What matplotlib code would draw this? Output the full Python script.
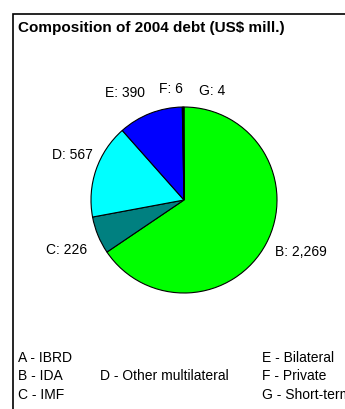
import matplotlib.pyplot as plt
from matplotlib.patches import Rectangle

plt.rcParams['font.family'] = ['Liberation Sans', 'DejaVu Sans']

letters = ['B', 'C', 'D', 'E', 'F', 'G']
values = [2269, 226, 567, 390, 6, 4]
value_text = ['2,269', '226', '567', '390', '6', '4']
colors = ['#00ff00', '#008080', '#00ffff', '#0000ff', '#663300', '#333300']

legend_cols = [
    ['A - IBRD', 'B - IDA', 'C - IMF'],
    ['', 'D - Other multilateral', ''],
    ['E - Bilateral', 'F - Private', 'G - Short-term'],
]

W, H = 345, 409
fig = plt.figure(figsize=(W / 100, H / 100), dpi=100)

# outer frame (cut off at right and bottom like the source)
fig.patches.append(Rectangle((13 / W, -0.1), 1.2, 1 - 14 / H + 0.1,
                             transform=fig.transFigure, fill=False,
                             edgecolor='black', linewidth=1.2))

fig.text(18 / W, 1 - 28 / H, 'Composition of 2004 debt (US$ mill.)',
         fontsize=11, fontweight='bold', va='center', ha='left')

cx, cy, r = 184, 200, 93
ax = fig.add_axes([(cx - r) / W, (H - cy - r) / H, 2 * r / W, 2 * r / H])
labels = [f'{l}: {v}' for l, v in zip(letters, value_text)]
wedges, texts = ax.pie(values, labels=labels, colors=colors, startangle=90,
                       counterclock=False, labeldistance=1.2,
                       wedgeprops=dict(edgecolor='black', linewidth=0.8),
                       textprops=dict(fontsize=10))
ax.set_xlim(-1, 1)
ax.set_ylim(-1, 1)
ax.set_aspect('equal')
ax.axis('off')

# nudge labels to where the source put them
tweaks = {'B': (-0.08, 0.0), 'C': (0.064, -0.085), 'D': (0.15, 0.09),
          'E': (0.02, 0.03), 'F': (-0.12, -0.01), 'G': (0.31, -0.03)}
for t, l in zip(texts, letters):
    x, y = t.get_position()
    dx, dy = tweaks[l]
    t.set_position((x + dx, y + dy))
    if l in 'FG':
        t.set_ha('center')

# legend text block; the last column runs off the right edge as in the source
xs = [18, 100, 262]
ys = [358, 376, 395]
for col, x in zip(legend_cols, xs):
    for txt, y in zip(col, ys):
        fig.text(x / W, 1 - y / H, txt, fontsize=10, va='center', ha='left')

fig.savefig('out.png', dpi=100)
